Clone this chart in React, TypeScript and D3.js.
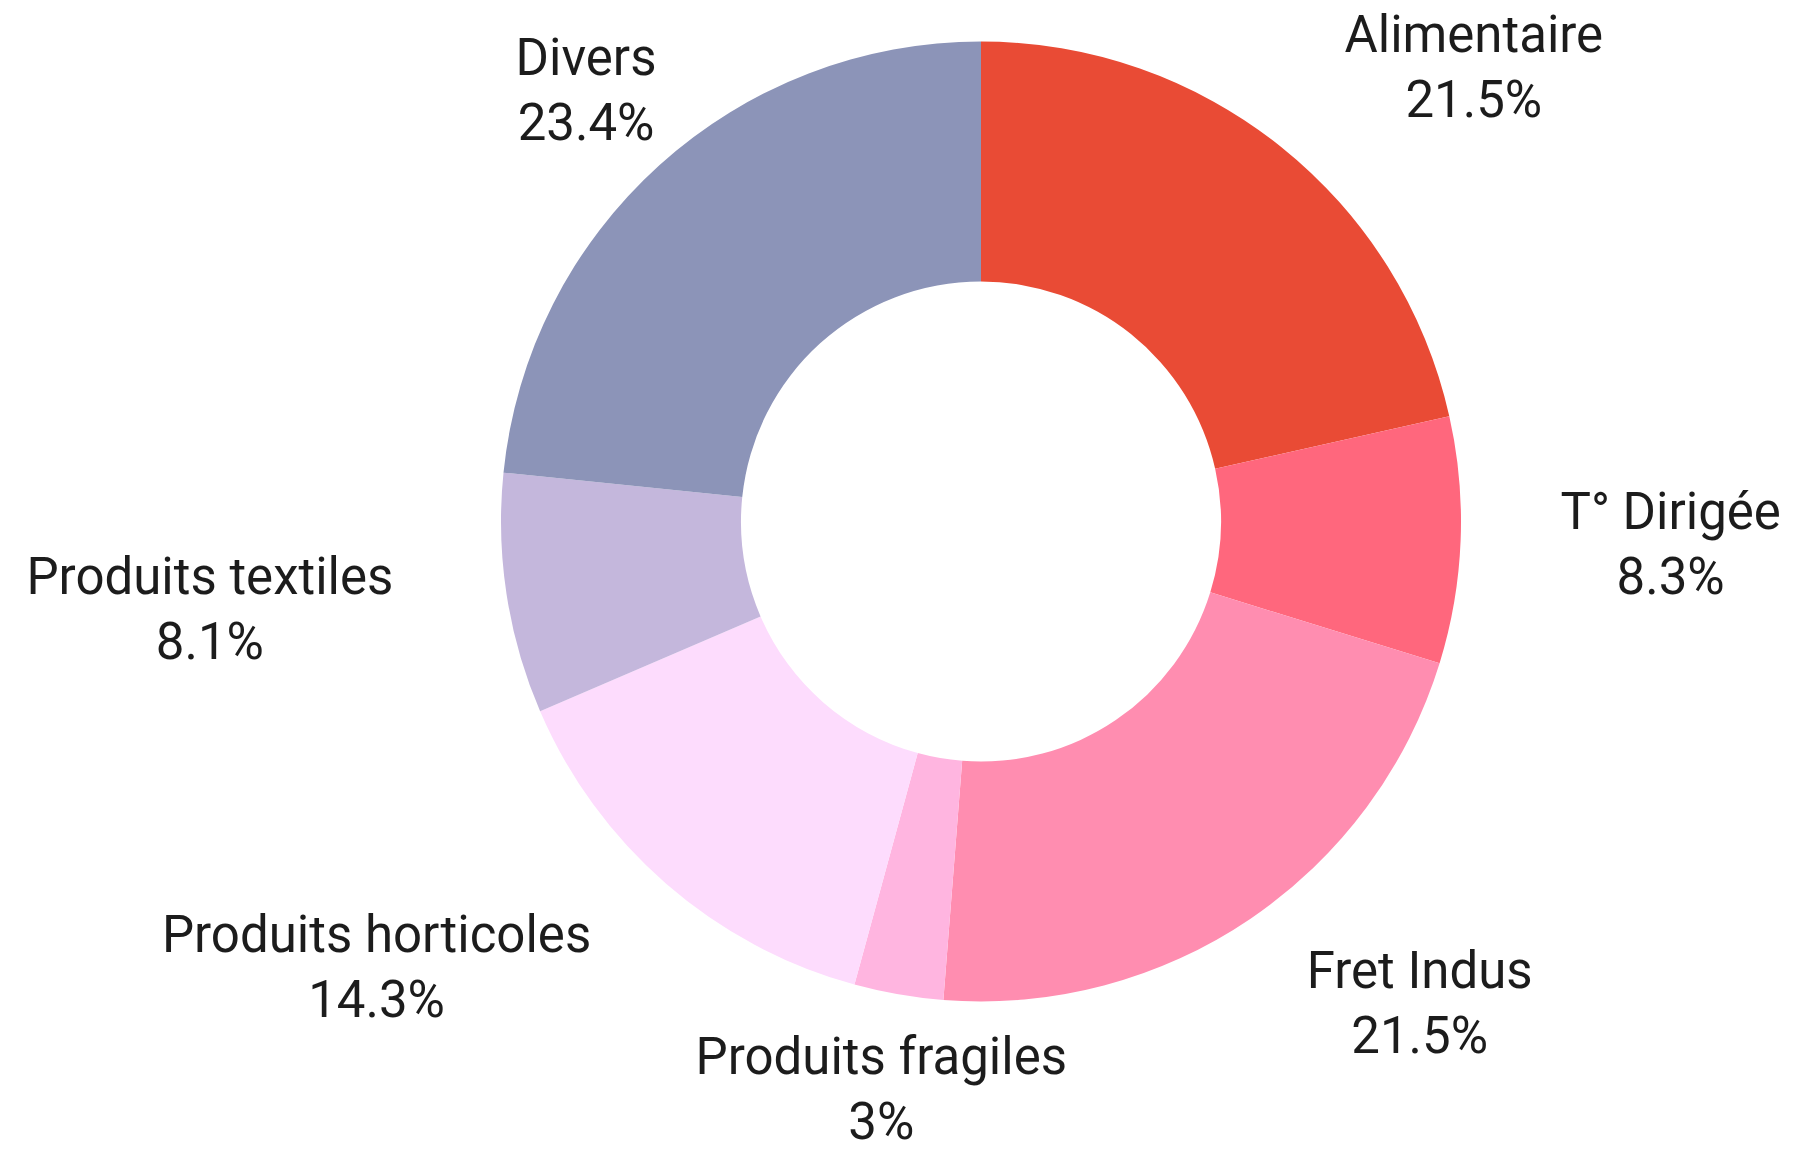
import React from "react";
import * as d3 from "d3";

const categories = [
  "Alimentaire",
  "T° Dirigée",
  "Fret Indus",
  "Produits fragiles",
  "Produits horticoles",
  "Produits textiles",
  "Divers",
];
const values = [21.5, 8.3, 21.5, 3, 14.3, 8.1, 23.4];
const colors = ["#E94B35", "#FF677D", "#FF8DB0", "#FFB5E0", "#FDDCFD", "#C4B7DC", "#8C94B8"];

// label layout nudges (degrees relative to slice mid-angle, distance from centre)
const labelAngleNudge = [8.6, -0.5, -8.2, 0.1, 12.7, 2.3, -0.3];
const labelDistance = [671, 690, 651, 575, 750, 776, 586];

const W = 1795;
const H = 1150;
const CX = 981;
const CY = 521.5;
const R_OUT = 480;
const R_IN = 240;

export default function App() {
  const data = categories.map((c, i) => ({ name: c, value: values[i], color: colors[i], i }));
  const pie = d3
    .pie<any>()
    .sort(null)
    .value((d) => d.value)
    .startAngle(0)
    .endAngle(2 * Math.PI);
  const arcs = pie(data);
  const arc = d3.arc<any>().innerRadius(R_IN).outerRadius(R_OUT);

  return (
    <svg
      width={W}
      height={H}
      style={{ position: "absolute", left: 0, top: 0, background: "#fff" }}
    >
      <g transform={`translate(${CX},${CY})`}>
        {arcs.map((a, i) => (
          <path key={i} d={arc(a) as string} fill={a.data.color} />
        ))}
        {arcs.map((a, i) => {
          const mid = (a.startAngle + a.endAngle) / 2 + (labelAngleNudge[i] * Math.PI) / 180;
          const r = labelDistance[i];
          const x = r * Math.sin(mid);
          const y = -r * Math.cos(mid);
          return (
            <text
              key={"t" + i}
              x={x}
              textAnchor="middle"
              fontFamily="Roboto, 'Noto Sans', sans-serif"
              fontSize={51}
              fill="#1c1c1c"
            >
              <tspan x={x} y={y - 14}>
                {a.data.name}
              </tspan>
              <tspan x={x} y={y + 51}>
                {`${a.data.value}%`}
              </tspan>
            </text>
          );
        })}
      </g>
    </svg>
  );
}
